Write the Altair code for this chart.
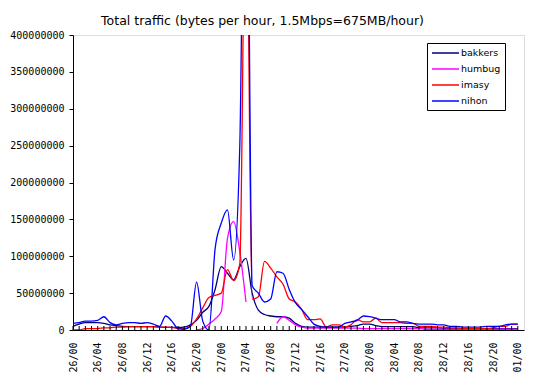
import altair as alt
import pandas as pd

title_text = "Total traffic (bytes per hour, 1.5Mbps=675MB/hour)"
series_names = ["bakkers", "humbug", "imasy", "nihon"]
series_colors = ["#000080", "#FF00FF", "#FF0000", "#0000FF"]

hours = list(range(73))
tick_hours = list(range(0, 73, 4))
tick_labels = ["26/00", "26/04", "26/08", "26/12", "26/16", "26/20",
               "27/00", "27/04", "27/08", "27/12", "27/16", "27/20",
               "28/00", "28/04", "28/08", "28/12", "28/16", "28/20", "01/00"]
y_ticks = [0, 50000000, 100000000, 150000000, 200000000,
           250000000, 300000000, 350000000, 400000000]

# values in millions of bytes per hour, one per hour (26/00 .. 01/00)
bakkers = [5, 8, 10, 10, 10, 9, 7, 6, 5, 4.5, 4.5, 4.5, 4.5, 4.5, 4, 3.5, 3.5, 3.5, 4, 7,
           13, 24, 32, 55, 86, 77, 68, 86, 97, 50, 27, 21, 19, 18, 18, 16, 9, 5, 4, 4,
           4, 4, 4, 4, 4, 5, 6, 8, 8, 6, 4.5, 4.5, 4.5, 4.5, 4.5, 4.5, 3, 3, 3, 3,
           2, 2, 2, 2, 2, 2, 2, 2, 2, 2, 2, 2, 2]
humbug = [None] * 20 + [0, 2, 8, 15, 25, 124, 147, 106, 38,
                        None, None, None, None,
                        9, 18, 13, 7, 4, 2.5, 2.5, 2.5, 2.5, 2.5, 2.5, 2.5, 2.5, 2.5,
                        2, 2, 2, 2, 2, 2, 2, 2, 2, 2,
                        1, 1, 1, 1, 1, 1, 1, 1, 1, 1, 1, 1, 1, 1, 1, 1, 0.5]
imasy = [0, 0, 2, 2, 2, 3, 3, 4, 4, 4.5, 4.5, 4.5, 4.5, 4.5, 4, 4, 3.5, 2, 2, 5,
         15, 30, 44, 47, 50, 82, 67, 90, 650, 42, 45, 93, 84, 72, 62, 42, 38, 28, 14, 14,
         15, 4, 7, 7, 4, 7, 14, 11, 11, 16, 10, 10, 10, 10, 9, 9, 5, 5, 5, 4,
         4, 3, 3, 2, 2, 2, 2, 2, 3, 5, 5, 8, 8]
nihon = [9, 10, 12, 12, 13, 18, 10, 7, 9, 10, 10, 9, 10, 8, 5, 19, 12, 2, 1, 5,
         65, 12, 0, 110, 145, 163, 95, 250, 850, 60, 50, 38, 42, 79, 77, 55, 37, 28, 18, 8,
         5, 4, 4, 4, 9, 11, 13, 19, 18, 16, 14, 14, 14, 11, 11, 9, 8, 8, 8, 7,
         7, 5, 5, 4, 4, 4, 4, 5, 5, 5, 7, 8, 8]

rows = []
for name, vals in zip(series_names, [bakkers, humbug, imasy, nihon]):
    seg = 0
    gap = False
    for h, v in zip(hours, vals):
        if v is None:
            if not gap:
                seg += 1
            gap = True
            continue
        gap = False
        rows.append({"hour": h, "bytes": v * 1e6, "series": name, "seg": f"{name}-{seg}"})
df = pd.DataFrame(rows)

label_expr = "[" + ",".join(f"'{t}'" for t in tick_labels) + "][round(datum.value / 4)]"
FONT = "DejaVu Sans"
AXFONT = "DejaVu Sans Mono"

x_scale = alt.Scale(domain=[0, 73], nice=False, zero=False)
x_axis = alt.Axis(values=tick_hours, labelExpr=label_expr, labelAngle=270,
                  labelOverlap=False, labelFlush=False, labelBound=False,
                  labelSeparation=0,
                  ticks=False, tickSize=0, labelPadding=12, title=None, grid=False,
                  domainColor="black", labelFont=AXFONT, labelFontSize=10,
                  labelColor="black")

y_enc = alt.Y(
    "bytes:Q",
    scale=alt.Scale(domain=[0, 400000000], nice=False),
    axis=alt.Axis(values=y_ticks, format="d", title=None, grid=False,
                  labelOverlap=False, labelFlush=False,
                  tickSize=4, labelPadding=5, domainColor="black", tickColor="black",
                  labelFont=AXFONT, labelFontSize=10, labelColor="black"),
)

lines = alt.Chart(df).mark_line(
    interpolate="monotone", strokeWidth=1.3, clip=True
).encode(
    x=alt.X("hour:Q", scale=x_scale, axis=x_axis),
    y=y_enc,
    color=alt.Color(
        "series:N",
        scale=alt.Scale(domain=series_names, range=series_colors),
        legend=alt.Legend(
            title=None, orient="none", legendX=354, legendY=8,
            symbolType="M-1,0H4.4", symbolSize=100, symbolStrokeWidth=1.5,
            labelOffset=18, padding=4, rowPadding=5, strokeColor="black",
            fillColor="white", labelFont=FONT, labelFontSize=9.5, labelColor="black",
        ),
    ),
    detail="seg:N",
)

ticks = alt.Chart(pd.DataFrame({"hour": hours})).mark_rule(
    color="black", strokeWidth=1
).encode(
    x=alt.X("hour:Q", scale=x_scale, axis=x_axis),
    y=alt.value(291),
    y2=alt.value(295),
)

chart = alt.layer(lines, ticks).properties(
    width=451,
    height=295,
    autosize=alt.AutoSizeParams(type="none"),
    padding={"left": 65, "top": 27, "right": 15, "bottom": 47},
    title=alt.TitleParams(
        text=title_text, font=FONT, fontSize=12.5, fontWeight="normal",
        anchor="middle", frame="group", dx=-36, dy=20, offset=13,
        baseline="alphabetic", color="black",
    ),
).configure_view(
    stroke="#808080", strokeWidth=1
).configure(background="white")

chart.save("out.html", embed_options={"renderer": "svg", "actions": False})
